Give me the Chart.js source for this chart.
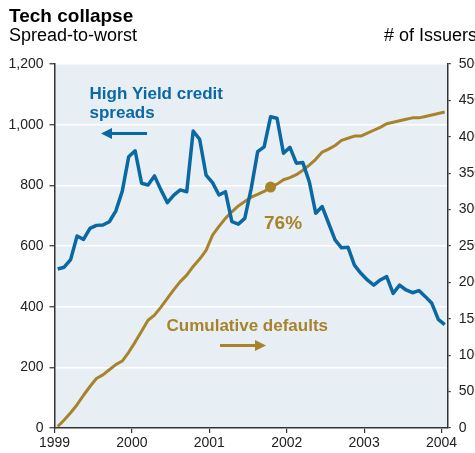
<!DOCTYPE html>
<html>
<head>
<meta charset="utf-8">
<script src="https://cdn.jsdelivr.net/npm/chart.js@4.4.1/dist/chart.umd.min.js"></script>
<style>
  html, body { margin: 0; padding: 0; background: #fff; }
  #wrap { position: relative; width: 475px; height: 453px; overflow: hidden; }
  canvas { position: absolute; left: 0; top: 0; }
  .hdr { position: absolute; font-family: "Liberation Sans", Arial, sans-serif; color: #000; line-height: 1; white-space: nowrap; }
</style>
</head>
<body>
<div id="wrap">
  <canvas id="c" width="475" height="453"></canvas>
  <div class="hdr" style="left:9px; top:5.6px; font-size:19px; font-weight:bold;">Tech collapse</div>
  <div class="hdr" style="left:9px; top:25.8px; font-size:18px;">Spread-to-worst</div>
  <div class="hdr" style="left:384px; top:25.8px; font-size:18px;">&#35; of Issuers</div>
</div>
<script>
// ---- Data (monthly, Jan 1999 .. Jan 2004) ----
const startYear = 1999;
const yearTicks = [1999, 2000, 2001, 2002, 2003, 2004];
const leftTicks = [0, 200, 400, 600, 800, 1000, 1200];
const rightTicks = [0, 50, 100, 150, 200, 250, 300, 350, 400, 450, 500];

// High Yield credit spreads (bp), left axis
const hySpreads = [
  524, 530, 555, 633, 622, 658, 668, 669, 680, 715,
  780, 894, 914, 807, 801, 831, 785, 743, 768, 785,
  779, 979, 952, 834, 809, 768, 779, 680, 672, 691,
  790, 911, 927, 1026, 1021, 906, 925, 873, 875, 812,
  708, 730, 675, 620, 594, 596, 537, 510, 488, 471,
  488, 499, 444, 471, 455, 446, 453, 433, 411, 358,
  341
];
// Cumulative defaults (# of issuers), right axis
const cumDefaults = [
  2, 11, 21, 32, 45, 57, 68, 73, 80, 87,
  92, 104, 118, 133, 148, 155, 166, 178, 190, 201,
  210, 222, 232, 244, 265, 277, 288, 297, 305, 311,
  317, 321, 325, 331, 335, 341, 344, 348, 354, 361,
  369, 379, 383, 388, 395, 398, 401, 401, 405, 409,
  413, 418, 420, 422, 424, 426, 426, 428, 430, 432,
  434
];
const markedIndex = 33; // the 76% point
const markedLabel = "76%";

const BLUE = "#0a68a3";
const GOLD = "#a7832b";
const BG = "#e8eff4";
const AXIS = "#333333";
const FONT = "'Liberation Sans', Arial, sans-serif";

const toX = i => startYear + (i + 0.5) / 12;
const hyPts = hySpreads.map((v, i) => ({ x: toX(i), y: v }));
const defPts = cumDefaults.map((v, i) => ({ x: toX(i), y: v }));

const bgPlugin = {
  id: "bg",
  beforeDraw(chart) {
    const { ctx, chartArea: a } = chart;
    ctx.save();
    ctx.fillStyle = BG;
    ctx.fillRect(a.left, a.top, a.right - a.left, a.bottom - a.top);
    ctx.restore();
  }
};

function arrow(ctx, x1, x2, y, color) {
  const dir = Math.sign(x2 - x1);
  ctx.save();
  ctx.strokeStyle = color;
  ctx.fillStyle = color;
  ctx.lineWidth = 3;
  ctx.beginPath();
  ctx.moveTo(x1, y);
  ctx.lineTo(x2 - dir * 8, y);
  ctx.stroke();
  ctx.beginPath();
  ctx.moveTo(x2, y);
  ctx.lineTo(x2 - dir * 11, y - 5.5);
  ctx.lineTo(x2 - dir * 11, y + 5.5);
  ctx.closePath();
  ctx.fill();
  ctx.restore();
}

const annPlugin = {
  id: "ann",
  afterDatasetsDraw(chart) {
    const { ctx } = chart;
    ctx.save();
    ctx.textBaseline = "alphabetic";
    ctx.textAlign = "left";
    ctx.font = "bold 17px " + FONT;
    ctx.fillStyle = BLUE;
    ctx.fillText("High Yield credit", 89.5, 98.5);
    ctx.fillText("spreads", 89.5, 117.5);
    arrow(ctx, 147, 101, 133.5, BLUE);

    ctx.fillStyle = GOLD;
    ctx.fillText("Cumulative defaults", 166.5, 330.5);
    arrow(ctx, 220, 266, 345.5, GOLD);

    ctx.font = "bold 19px " + FONT;
    ctx.fillText(markedLabel, 264, 228.5);
    ctx.restore();
  }
};

new Chart(document.getElementById("c"), {
  type: "line",
  data: {
    datasets: [
      {
        label: "High Yield credit spreads",
        data: hyPts,
        yAxisID: "yL",
        borderColor: BLUE,
        borderWidth: 3.5,
        pointRadius: 0,
        tension: 0,
        borderJoinStyle: "round",
        order: 1
      },
      {
        label: "Cumulative defaults",
        data: defPts,
        yAxisID: "yR",
        borderColor: GOLD,
        backgroundColor: GOLD,
        borderWidth: 3,
        pointRadius: ctx => (ctx.dataIndex === markedIndex ? 5.5 : 0),
        pointBackgroundColor: GOLD,
        pointBorderWidth: 0,
        tension: 0,
        borderJoinStyle: "round",
        order: 2
      }
    ]
  },
  options: {
    responsive: false,
    animation: false,
    events: [],
    layout: { padding: { top: 64, left: 0, right: 0, bottom: 0 } },
    plugins: { legend: { display: false }, tooltip: { enabled: false }, title: { display: false } },
    scales: {
      x: {
        type: "linear",
        min: 1999,
        max: 2004.08,
        afterBuildTicks: s => { s.ticks = yearTicks.map(v => ({ value: v })); },
        afterFit: s => { s.height = 25; },
        ticks: { color: "#222", font: { family: FONT, size: 14 }, padding: 2, maxRotation: 0, autoSkip: false,
                 callback: v => String(v) },
        grid: { drawOnChartArea: false, drawTicks: true, tickLength: 5, color: AXIS, lineWidth: 1.2 },
        border: { display: true, color: AXIS, width: 1.5 }
      },
      yL: {
        type: "linear",
        position: "left",
        min: 0,
        max: 1200,
        afterBuildTicks: s => { s.ticks = leftTicks.map(v => ({ value: v })); },
        afterFit: s => { s.width = 54.5; },
        ticks: { color: "#222", font: { family: FONT, size: 14 }, padding: 6,
                 callback: v => v.toLocaleString("en-US") },
        grid: { drawOnChartArea: true, drawTicks: true, tickLength: 5, lineWidth: 1.5,
                color: "#ffffff", tickColor: AXIS, tickWidth: 1.2 },
        border: { display: true, color: AXIS, width: 1.5 }
      },
      yR: {
        type: "linear",
        position: "right",
        min: 0,
        max: 500,
        afterBuildTicks: s => { s.ticks = rightTicks.map(v => ({ value: v })); },
        afterFit: s => { s.width = 27.3; },
        ticks: { color: "#222", font: { family: FONT, size: 14 }, padding: 8 },
        grid: { drawOnChartArea: false, drawTicks: true, tickLength: 3, color: AXIS, lineWidth: 1.2 },
        border: { display: true, color: AXIS, width: 1.5 }
      }
    }
  },
  plugins: [bgPlugin, annPlugin]
});
</script>
</body>
</html>
